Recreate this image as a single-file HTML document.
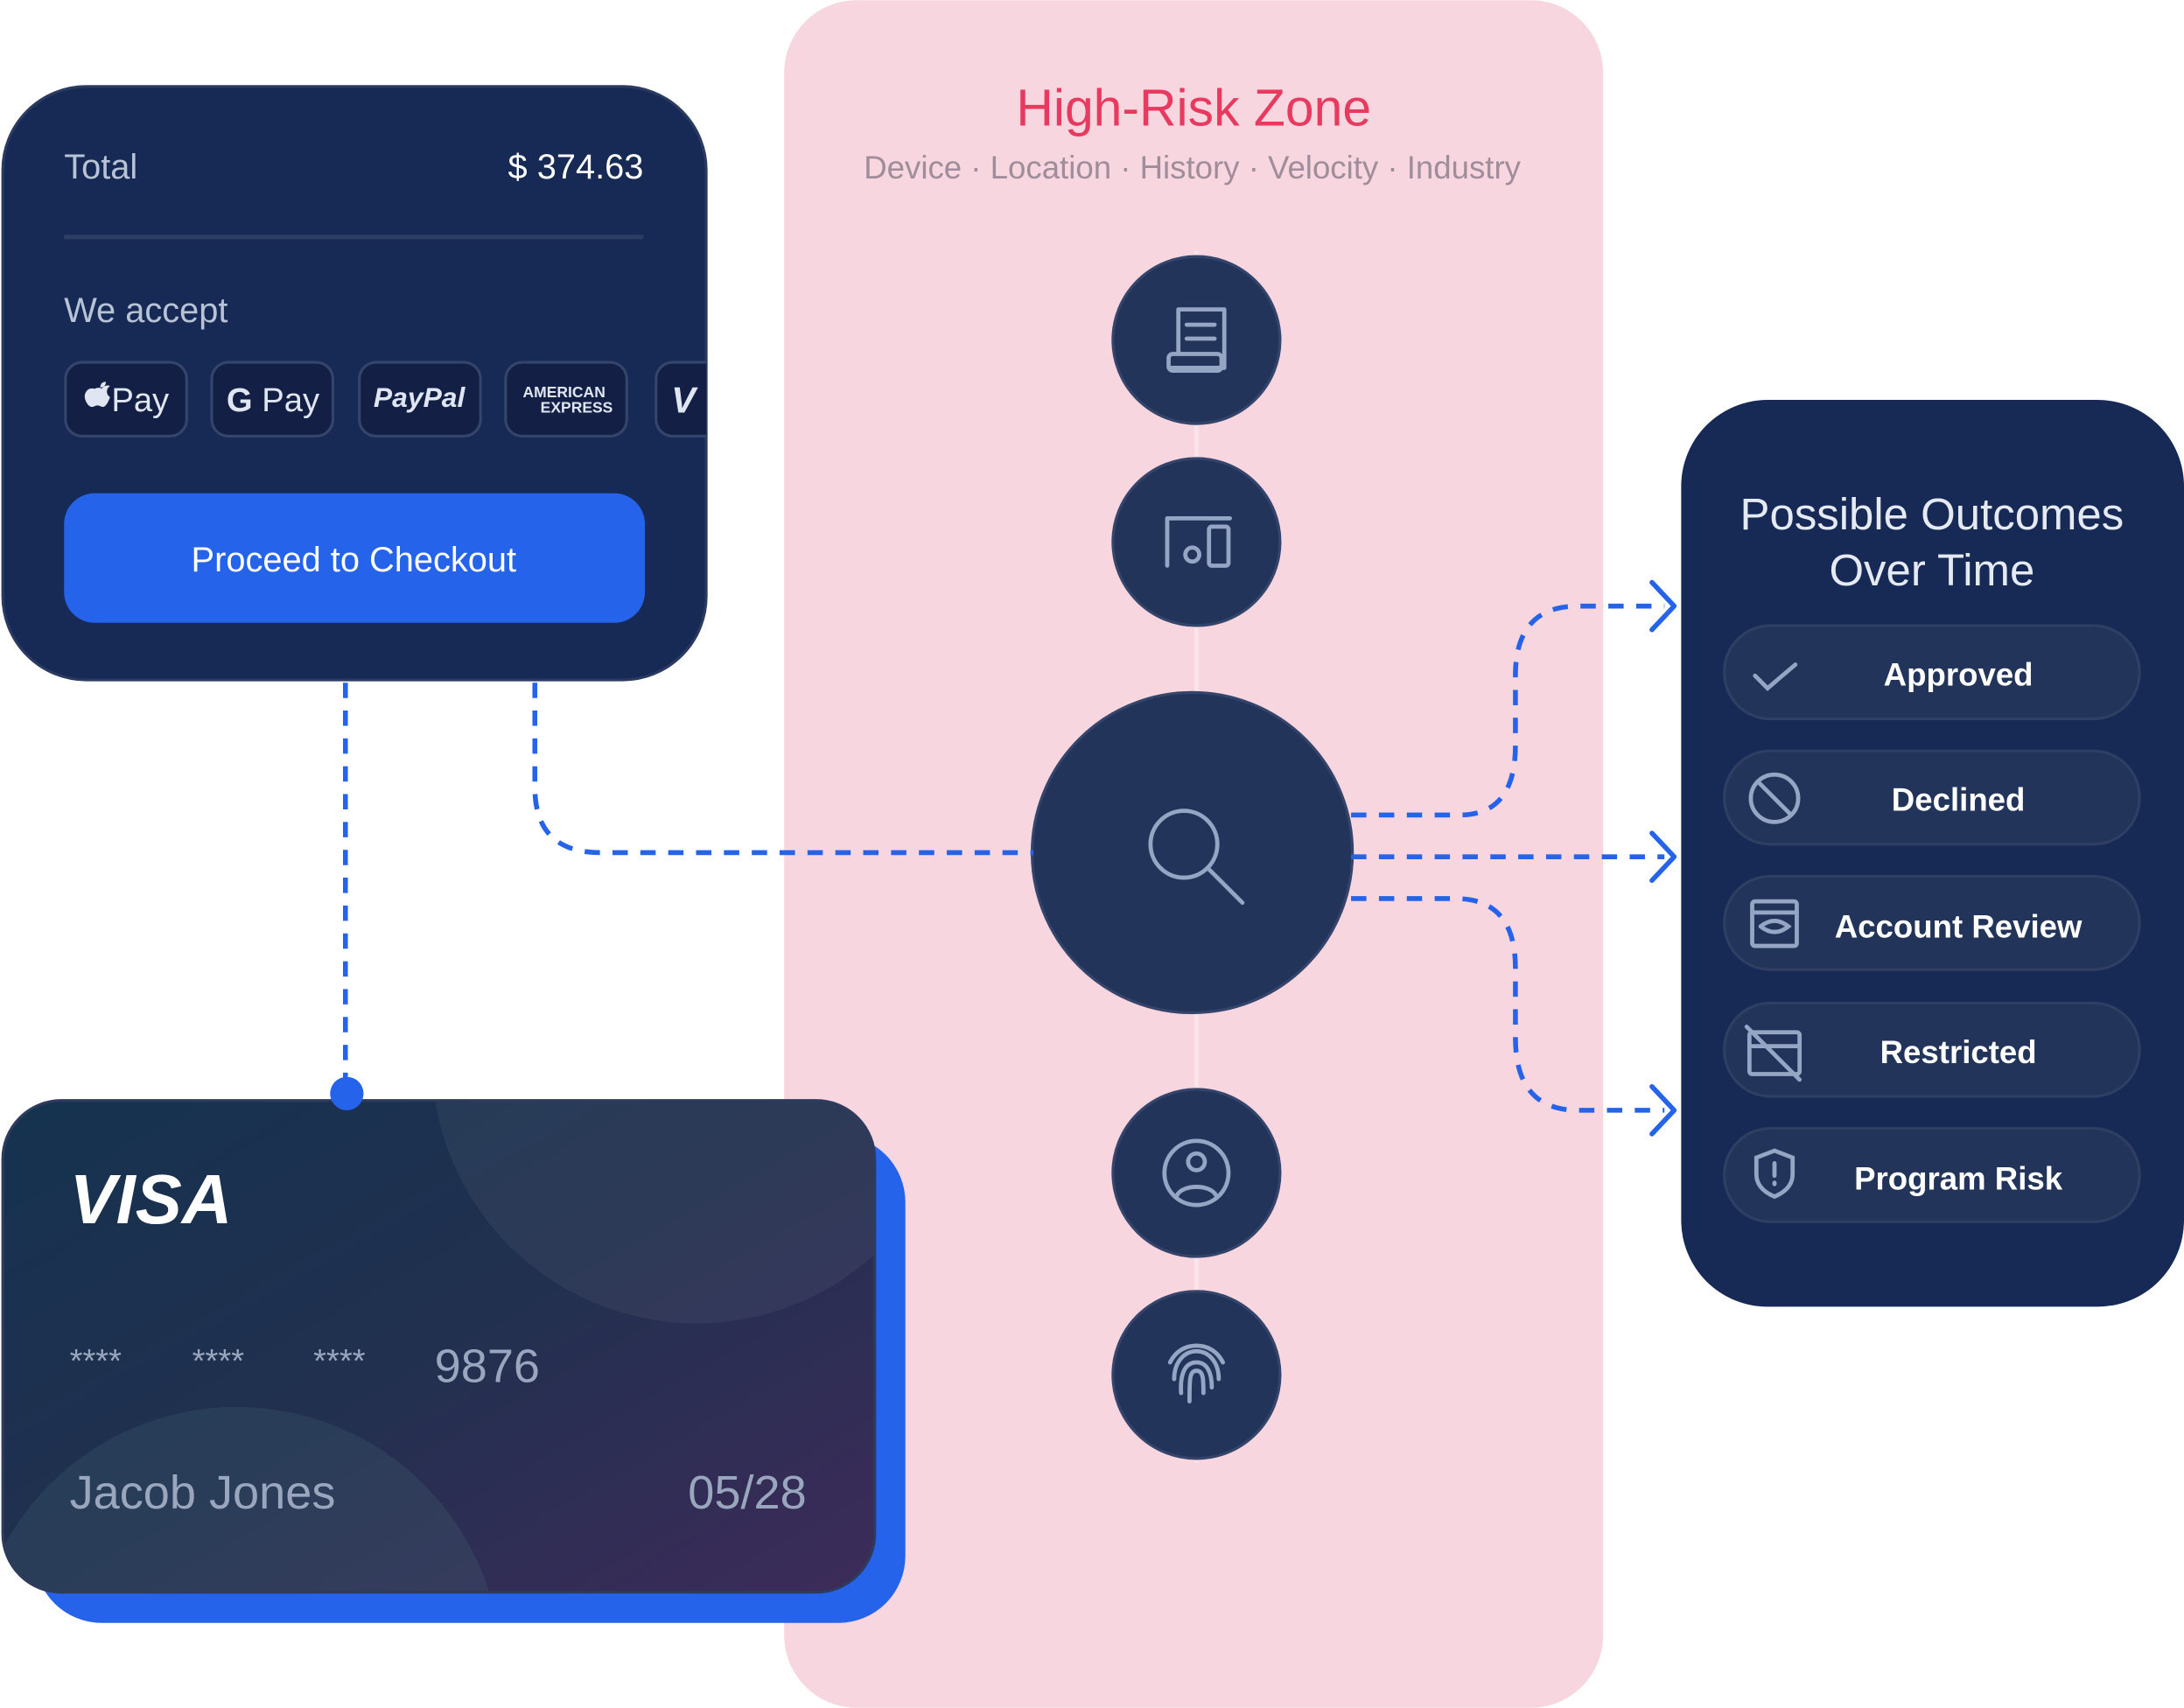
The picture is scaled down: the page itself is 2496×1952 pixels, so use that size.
<!DOCTYPE html>
<html><head><meta charset="utf-8"><style>
html,body{margin:0;padding:0;background:#fff;width:2496px;height:1952px;overflow:hidden;}
svg{display:block;}
text{font-family:"Liberation Sans","DejaVu Sans",sans-serif;}
</style></head><body>
<svg width="2496" height="1952" viewBox="0 0 1568 1226" xmlns="http://www.w3.org/2000/svg">
<defs>
<linearGradient id="vg" x1="0" y1="0" x2="1" y2="1">
<stop offset="0" stop-color="#14324f"/><stop offset="0.5" stop-color="#22304f"/><stop offset="1" stop-color="#3d2b5a"/>
</linearGradient>
<clipPath id="vc"><rect x="2" y="790" width="626" height="353" rx="42"/></clipPath>
</defs>
<rect width="1568" height="1226" fill="#fff"/>
<rect x="563" y="0" width="588" height="1226" rx="52" fill="#f8d6e0"/>
<line x1="859" y1="180" x2="859" y2="1050" stroke="#fbe4ea" stroke-width="3"/>
<text x="857" y="90" text-anchor="middle" font-size="37" fill="#e8395f">High-Risk Zone</text>
<text x="856" y="128" text-anchor="middle" font-size="23" fill="#a08d9a">Device · Location · History · Velocity · Industry</text>
<g fill="#22345a" stroke="#34446a" stroke-width="2">
<circle cx="859" cy="244" r="60"/><circle cx="859" cy="389" r="60"/>
<circle cx="856" cy="612" r="115"/>
<circle cx="859" cy="842" r="60"/><circle cx="859" cy="987" r="60"/>
</g>
<g fill="none" stroke="#94a6c4" stroke-width="3" stroke-linecap="round" stroke-linejoin="round">
<path d="M846 253V222h33v42h-38"/><path d="M852 233h20M852 243h20"/><rect x="839" y="254" width="38" height="12" rx="3"/>
<path d="M838 406V372h45"/><rect x="868" y="378" width="14" height="28" rx="2"/><circle cx="856" cy="398" r="5"/>
<circle cx="850" cy="606" r="24"/><path d="M867 623l25 25"/>
<circle cx="859" cy="842" r="23"/><circle cx="859" cy="834" r="6"/><path d="M845 858c4-8 24-8 28 0"/>
<path d="M843 990c0-12 7-20 16-20s16 8 16 20M848 1000c-1-14 3-22 11-22s11 8 11 18M854 1006c0-16 0-22 5-22s5 6 5 16M840 978c4-8 11-12 19-12s15 4 19 12"/>
</g>
<rect x="2" y="62" width="505" height="426" rx="60" fill="#162a55" stroke="#2a3a60" stroke-width="2"/>
<text x="46" y="128" font-size="25" fill="#b9c3d6">Total</text>
<text x="462" y="128" text-anchor="end" font-size="25" fill="#fff">$ 374.63</text>
<line x1="46" y1="170" x2="462" y2="170" stroke="#2e3e62" stroke-width="3"/>
<text x="46" y="231" font-size="25" fill="#b9c3d6">We accept</text>
<g fill="#131f44" stroke="#33456a" stroke-width="2">
<rect x="47" y="260" width="87" height="53" rx="12"/><rect x="152" y="260" width="87" height="53" rx="12"/>
<rect x="258" y="260" width="87" height="53" rx="12"/><rect x="363" y="260" width="87" height="53" rx="12"/>
<path d="M507 260H483a12 12 0 0 0-12 12v29a12 12 0 0 0 12 12H507"/>
</g>
<g fill="#dfe6f2">
<path d="M68 279c2-1 4-1 5 0c1-2 4-3 6-2c-3 2-3 6 0 8c-1 3-3 7-5 7c-2 0-2-1-4-1s-2 1-4 1c-3 0-6-6-5-9c1-3 3-5 7-4zM72 278c0-2 1-4 4-4c0 2-1 4-4 4z"/>
<text x="80" y="295" font-size="24">Pay</text>
<text x="196" y="295" text-anchor="middle" font-size="24"><tspan font-weight="bold">G</tspan> Pay</text>
<text x="301" y="292" text-anchor="middle" font-size="20" font-weight="bold" font-style="italic">PayPal</text>
<text x="405" y="285" text-anchor="middle" font-size="11" font-weight="bold">AMERICAN</text>
<text x="414" y="296" text-anchor="middle" font-size="11" font-weight="bold">EXPRESS</text>
<text x="482" y="296" font-size="26" font-weight="bold" font-style="italic">V</text>
</g>
<rect x="46" y="354" width="417" height="93" rx="22" fill="#2563eb"/>
<text x="254" y="410" text-anchor="middle" font-size="25" fill="#fff">Proceed to Checkout</text>
<rect x="25" y="815" width="625" height="350" rx="48" fill="#2563eb"/>
<rect x="2" y="790" width="626" height="353" rx="42" fill="url(#vg)"/>
<g clip-path="url(#vc)">
<circle cx="500" cy="760" r="190" fill="#ffffff" opacity="0.05"/>
<circle cx="170" cy="1200" r="190" fill="#5a8a8a" opacity="0.15"/>
</g>
<rect x="2" y="790" width="626" height="353" rx="42" fill="none" stroke="#2f3b5c" stroke-width="2"/>
<text x="50" y="878" font-size="50" font-weight="bold" font-style="italic" fill="#fff">VISA</text>
<g font-size="24" fill="#9aa6bd"><text x="50" y="985">****</text><text x="138" y="985">****</text><text x="225" y="985">****</text></g>
<text x="312" y="992" font-size="34" fill="#9aa6bd">9876</text>
<text x="50" y="1083" font-size="34" fill="#9aa6bd">Jacob Jones</text>
<text x="579" y="1083" text-anchor="end" font-size="34" fill="#9aa6bd">05/28</text>
<rect x="1207" y="287" width="361" height="651" rx="62" fill="#162a55"/>
<text x="1387" y="380" text-anchor="middle" font-size="32" fill="#e4e9f2">Possible Outcomes</text>
<text x="1387" y="420" text-anchor="middle" font-size="32" fill="#e4e9f2">Over Time</text>
<g fill="#22345a" stroke="#2e3f62" stroke-width="2">
<rect x="1238" y="449" width="298" height="67" rx="33"/>
<rect x="1238" y="539" width="298" height="67" rx="33"/>
<rect x="1238" y="629" width="298" height="67" rx="33"/>
<rect x="1238" y="720" width="298" height="67" rx="33"/>
<rect x="1238" y="810" width="298" height="67" rx="33"/>
</g>
<g fill="#fff" font-size="23" text-anchor="middle" font-weight="bold">
<text x="1406" y="492">Approved</text><text x="1406" y="582">Declined</text>
<text x="1406" y="673">Account Review</text><text x="1406" y="763">Restricted</text>
<text x="1406" y="854">Program Risk</text>
</g>
<g fill="none" stroke="#94a6c4" stroke-width="3" stroke-linecap="round">
<path d="M1260 485l9 9 20-17"/>
<circle cx="1274" cy="573" r="17"/><path d="M1262 561l24 24"/>
<rect x="1258" y="647" width="32" height="32" rx="2"/><path d="M1258 655h32"/><path d="M1264 665q10-8 20 0q-10 8-20 0"/>
<rect x="1256" y="741" width="36" height="30" rx="2"/><path d="M1256 751h36M1254 737l38 38"/>
<path d="M1274 826l-13 5v12c0 8 6 13 13 16 7-3 13-8 13-16v-12z"/><path d="M1274 835v9M1274 849v1"/>
</g>
<g fill="none" stroke="#2563eb" stroke-width="3.5" stroke-dasharray="11 9">
<path d="M248 490V780"/>
<path d="M384 490V565q0 47 47 47H742"/>
<path d="M970 585H1048q40 0 40-50V485q0-50 45-50H1195"/>
<path d="M970 615H1195"/>
<path d="M970 645H1045q43 0 43 50V745q0 52 45 52H1195"/>
</g>
<circle cx="249" cy="785" r="12" fill="#2563eb"/>
<g fill="none" stroke="#2563eb" stroke-width="3.5" stroke-linecap="round" stroke-linejoin="round">
<path d="M1186 418l16 17-16 17"/><path d="M1186 598l16 17-16 17"/><path d="M1186 780l16 17-16 17"/>
</g>
</svg>
</body></html>
